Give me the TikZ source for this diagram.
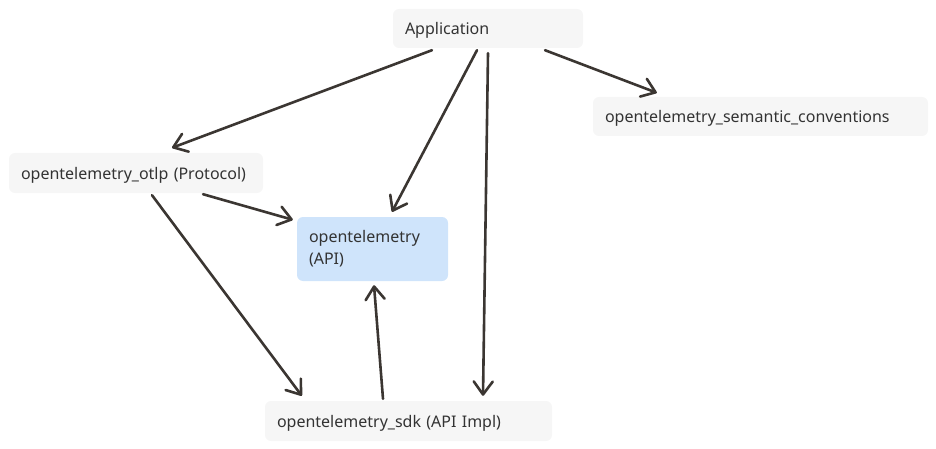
\documentclass[tikz,border=0pt]{standalone}
\usepackage{fontspec}
\setmainfont{Noto Sans}
\usepackage{tikz}
\usetikzlibrary{arrows.meta}
\definecolor{boxgray}{HTML}{F6F6F6}
\definecolor{apiblue}{HTML}{CFE4FB}
\definecolor{inkline}{HTML}{3B3632}
\definecolor{inktext}{HTML}{333333}
\tikzset{
  box/.style={rectangle, rounded corners=6pt, fill=boxgray, draw=none, text=inktext,
    inner xsep=12pt, inner ysep=0pt, align=left, font=\fontsize{16}{22}\selectfont},
  pkg/.style={box, text height=12pt, text depth=0pt},
  api/.style={box, fill=apiblue},
  dep/.style={draw=inkline, line width=2.6pt, line cap=round,
    -{Straight Barb[length=13pt,width=19pt,round]}}
}

\begin{document}
\begin{tikzpicture}[x=1pt,y=-1pt]
    \useasboundingbox (0,0) rectangle (936,449);
    % boxes
    \node[pkg, minimum width=190pt, minimum height=39pt, text width=166pt] (app) at (488,28.5) {Application};
    \node[pkg, minimum width=335pt, minimum height=39pt, text width=311pt] (sem) at (760.5,116.5) {opentelemetry\_semantic\_conventions};
    \node[pkg, minimum width=254pt, minimum height=40pt, text width=230pt] (otlp) at (136,173) {opentelemetry\_otlp (Protocol)};
    \node[api, minimum width=151pt, minimum height=64pt, text width=127pt] (api) at (372.5,249) {opentelemetry\\(API)};
    \node[pkg, minimum width=287pt, minimum height=40pt, text width=263pt] (sdk) at (408.5,421) {opentelemetry\_sdk (API Impl)};
    % arrows
    \draw[dep] ([shift={(-56,2)}]app.south) -- ([shift={(36,-5)}]otlp.north);
    \draw[dep] ([shift={(-11,2)}]app.south) -- ([shift={(19.5,-5)}]api.north);
    \draw[dep] ([shift={(0,5)}]app.south) -- ([shift={(74.5,-5)}]sdk.north);
    \draw[dep] ([shift={(57,2)}]app.south) -- ([shift={(64,-4)}]sem.north west);
    \draw[dep] ([shift={(67,1)}]otlp.south) -- ([shift={(-4,3)}]api.north west);
    \draw[dep] ([shift={(16,2)}]otlp.south) -- ([shift={(37,-5)}]sdk.north west);
    \draw[dep] ([shift={(-25.5,-2)}]sdk.north) -- ([shift={(1.5,4)}]api.south);
\end{tikzpicture}
\end{document}
